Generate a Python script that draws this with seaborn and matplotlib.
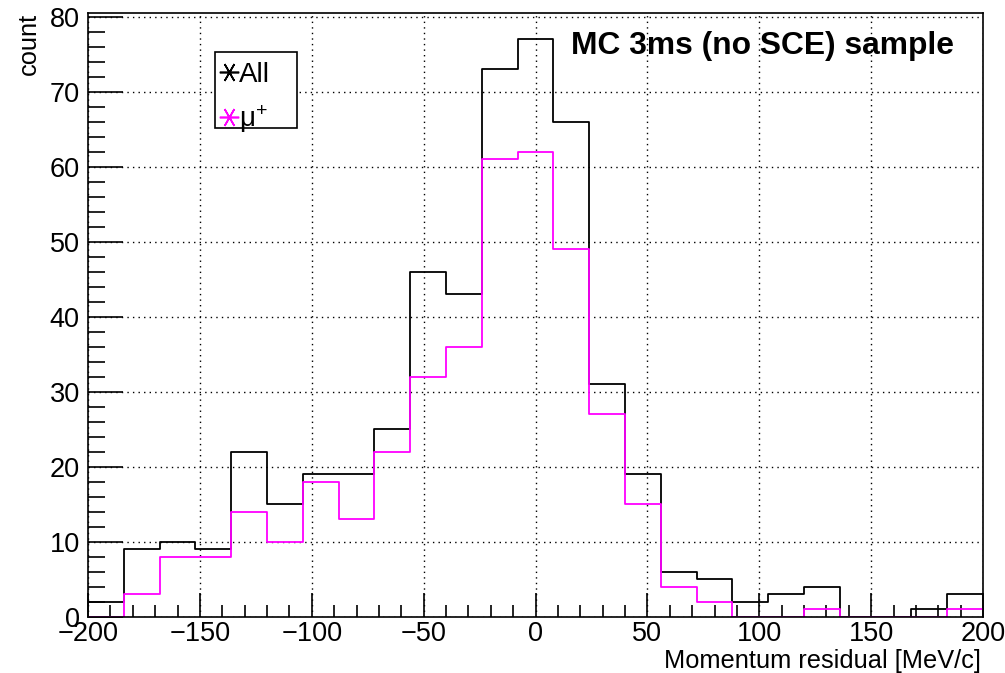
import numpy as np
import matplotlib
matplotlib.use("Agg")
import matplotlib.pyplot as plt
from matplotlib.lines import Line2D
from matplotlib.patches import Rectangle
from matplotlib.ticker import MultipleLocator
import seaborn as sns

# ---- data ----
bin_edges = list(range(-200, 201, 16))
counts_all = [2, 9, 10, 9, 22, 15, 19, 19, 25, 46, 43, 73, 77, 66, 31, 19, 6, 5, 2, 3, 4, 0, 0, 1, 3]
counts_mu = [0, 3, 8, 8, 14, 10, 18, 13, 22, 32, 36, 61, 62, 49, 27, 15, 4, 2, 0, 0, 1, 0, 0, 0, 1]
series_names = ["All", r"$\mathregular{\mu^{+}}$"]
series_colors = ["black", "#ff00ff"]
x_label = "Momentum residual [MeV/c]"
y_label = "count"
title_text = "MC 3ms (no SCE) sample"

centers = [(a + b) / 2 for a, b in zip(bin_edges[:-1], bin_edges[1:])]

sns.set_style("ticks")
plt.rcParams['font.family'] = ['Liberation Sans', 'DejaVu Sans']
plt.rcParams['mathtext.fontset'] = 'custom'
plt.rcParams['mathtext.rm'] = 'Liberation Sans'
for k in ['text.color', 'axes.labelcolor', 'xtick.color', 'ytick.color']:
    plt.rcParams[k] = 'black'

W, H = 1005, 673
L, R, T, B = 88, 983, 13, 617
fig = plt.figure(figsize=(W / 100, H / 100), dpi=100)
ax = fig.add_axes([L / W, 1 - B / H, (R - L) / W, (B - T) / H])


def px2ax(x, y):
    return (x - L) / (R - L), (B - y) / (B - T)


for counts, col in zip([counts_all, counts_mu], series_colors):
    sns.histplot(x=centers, weights=counts, bins=bin_edges, element="step",
                 fill=False, color=col, linewidth=1.3, ax=ax)

ax.set_xlim(-200, 200)
ax.set_ylim(0, 80.5)
ax.xaxis.set_major_locator(MultipleLocator(50))
ax.xaxis.set_minor_locator(MultipleLocator(10))
ax.yaxis.set_major_locator(MultipleLocator(10))
ax.yaxis.set_minor_locator(MultipleLocator(2))
ax.tick_params(axis='y', which='major', direction='in', length=25, width=1.2, labelsize=19.5, pad=6)
ax.tick_params(axis='y', which='minor', direction='in', length=12, width=1.2)
ax.tick_params(axis='x', which='major', direction='in', length=17, width=1.2, labelsize=19.5, pad=3)
ax.tick_params(axis='x', which='minor', direction='in', length=8.5, width=1.2)
for s in ax.spines.values():
    s.set_visible(True)
    s.set_color('black')
    s.set_linewidth(1.2)
ax.grid(True, which='major', linestyle=(0, (1, 3)), color='black', linewidth=1)
ax.set_axisbelow(True)

ax.set_xlabel(x_label, fontsize=18.3, ha='right', va='center')
ax.xaxis.set_label_coords(*px2ax(981, 661))
ax.set_ylabel(y_label, fontsize=18.3, loc='top', labelpad=6)

ax.text(0.968, 0.946, title_text, transform=ax.transAxes, ha='right', va='center',
        fontsize=22.9, fontweight='bold')

# legend box
x0, y1 = px2ax(215, 128)
x1, y0 = px2ax(297, 52)
ax.add_patch(Rectangle((x0, y1), x1 - x0, y0 - y1, transform=ax.transAxes,
                       facecolor='white', edgecolor='black', linewidth=1.2, zorder=5))

handles = [Line2D([], [], linestyle='none', marker=(6, 2, 90), markersize=14,
                  markeredgewidth=1.2, color=c) for c in series_colors]
leg = ax.legend(handles, series_names, loc='upper left',
                bbox_to_anchor=px2ax(215, 56),
                fontsize=20, frameon=False, borderpad=0.2, handlelength=0.6,
                handletextpad=0.05, labelspacing=0.55, borderaxespad=0)
leg.set_zorder(6)

fig.savefig("out.png", dpi=100)
